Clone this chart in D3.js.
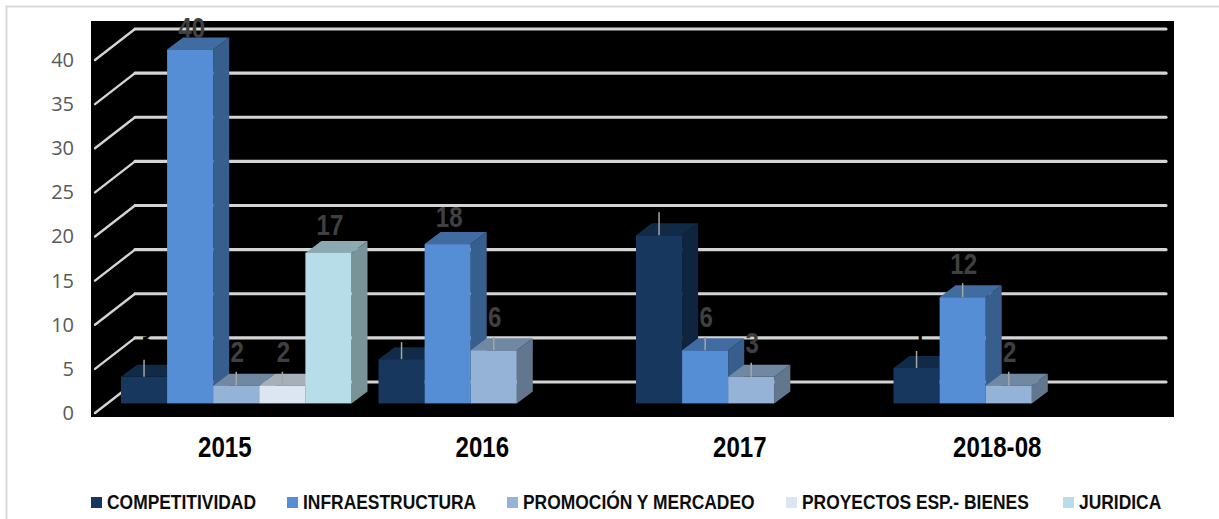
<!DOCTYPE html>
<html lang="es">
<head>
    <meta charset="UTF-8">
    <title>Chart</title>
    <script src="https://d3js.org/d3.v7.min.js"></script>
    <style>
        html, body { margin: 0; padding: 0; background: #fff; }
        svg { display: block; }
        .narrow text { font-family: "Liberation Sans", sans-serif; font-weight: bold; }
    </style>
</head>
<body>
    <svg id="chart" width="1219" height="519"></svg>

    <script>
        // Data
        const categories = ["2015", "2016", "2017", "2018-08"];
        const seriesNames = ["COMPETITIVIDAD", "INFRAESTRUCTURA", "PROMOCIÓN Y MERCADEO", "PROYECTOS ESP.- BIENES", "JURIDICA"];
        const competitividad = [3, 5, 19, 4];
        const infraestructura = [40, 18, 6, 12];
        const promocion = [2, 6, 3, 2];
        const proyectos = [2, null, null, null];
        const juridica = [17, null, null, null];
        const seriesValues = [competitividad, infraestructura, promocion, proyectos, juridica];
        const seriesColors = ["#17375E", "#558ED5", "#95B3D7", "#DCE6F2", "#B7DEE8"];
        const wallTicks = [0, 5, 10, 15, 20, 25, 30, 35, 40];

        // Layout
        const DEPTH_X = 16, DEPTH_Y = 12;
        const WALL_DX = 40, WALL_DY = 31;
        const LEGEND_X = [91, 287, 507, 786, 1063];
        const NARROW = 0.83; // no narrow font installed, squeeze the bold one

        const svg = d3.select("#chart");

        // Frame and black plot background
        svg.append("path")
            .attr("d", "M1219,6.5H6.5V519")
            .attr("fill", "none")
            .attr("stroke", "#d9d9d9")
            .attr("stroke-width", 2);
        svg.append("rect")
            .attr("x", 91).attr("y", 21)
            .attr("width", 1083).attr("height", 396)
            .attr("fill", "#000");

        // Scales
        const x = d3.scaleBand().domain(categories).range([107.5, 1137.5]);
        const barX = d3.scaleBand().domain(d3.range(seriesNames.length)).range([0, 230.5]);
        const yBar = d3.scaleLinear().domain([0, 40]).range([403.4, 49.4]);
        const yWall = d3.scaleLinear().domain([0, 40]).range([382, 29]);

        // Gridlines on the back wall with the diagonal floor/side part
        const grid = svg.append("g")
            .attr("fill", "none")
            .attr("stroke", "#d4d4d4")
            .attr("stroke-linecap", "round");
        wallTicks.forEach(t => {
            grid.append("line")
                .attr("x1", 95 + WALL_DX).attr("x2", 1166)
                .attr("y1", yWall(t)).attr("y2", yWall(t))
                .attr("stroke-width", 3.2);
            grid.append("line")
                .attr("x1", 95).attr("x2", 95 + WALL_DX)
                .attr("y1", yWall(t) + WALL_DY).attr("y2", yWall(t))
                .attr("stroke-width", 2.4);
        });

        // Value axis, labels sit beside the front end of the diagonals
        const yAxis = svg.append("g")
            .attr("transform", `translate(74,${WALL_DY})`)
            .call(d3.axisLeft(yWall).tickValues(wallTicks).tickSize(0).tickPadding(0));
        yAxis.select(".domain").remove();
        yAxis.selectAll("text")
            .attr("fill", "#595959")
            .style("font-family", "'Open Sans', sans-serif")
            .style("font-size", "20px");

        // 3D bars, drawn left to right so later bars cover earlier side faces
        function shade(color, k) {
            const c = d3.rgb(color);
            return d3.rgb(c.r * k, c.g * k, c.b * k).formatHex();
        }

        const bars = [];
        categories.forEach((cat, i) => {
            seriesValues.forEach((vals, s) => {
                if (vals[i] !== null) bars.push({ cat, s, value: vals[i] });
            });
        });

        const barG = svg.append("g");
        bars.forEach(d => {
            const x0 = x(d.cat) + 13.5 + barX(d.s);
            const x1 = x0 + barX.bandwidth();
            const y0 = yBar(d.value);
            const y1 = yBar(0);
            const col = seriesColors[d.s];
            barG.append("path")
                .attr("d", `M${x1},${y0}L${x1 + DEPTH_X},${y0 - DEPTH_Y}V${y1 - DEPTH_Y}L${x1},${y1}Z`)
                .attr("fill", shade(col, 0.66));
            barG.append("path")
                .attr("d", `M${x0},${y0}L${x0 + DEPTH_X},${y0 - DEPTH_Y}H${x1 + DEPTH_X}L${x1},${y0}Z`)
                .attr("fill", shade(col, 0.76));
            barG.append("rect")
                .attr("x", x0).attr("y", y0)
                .attr("width", x1 - x0).attr("height", y1 - y0)
                .attr("fill", col);
        });

        // Data labels with the small leader lines
        const labelG = svg.append("g").attr("class", "narrow");
        bars.forEach(d => {
            const cx = x(d.cat) + 13.5 + barX(d.s) + barX.bandwidth() / 2;
            const top = yBar(d.value);
            const isDark = d.s === 0;
            const noLeader = !isDark && d.value >= 17;
            let lift = 34;
            if (d.value === 40) lift = 22;
            else if (noLeader) lift = 28;
            else if (isDark) lift = d.value > 10 ? 42 : 38;
            if (!noLeader) {
                labelG.append("line")
                    .attr("x1", cx).attr("x2", cx)
                    .attr("y1", top).attr("y2", top - (d.value > 10 && isDark ? 23 : isDark ? 17 : 14))
                    .attr("stroke", "#a6a6a6")
                    .attr("stroke-width", 1.5);
            }
            labelG.append("text")
                .attr("transform", `translate(${cx + (noLeader ? 1.5 : 1)},${top - lift}) scale(${NARROW},1)`)
                .attr("dy", "0.36em")
                .attr("text-anchor", "middle")
                .attr("fill", isDark ? "#000" : "#404040")
                .style("font-size", "29px")
                .text(d.value);
        });

        // Category labels
        const xAxis = svg.append("g")
            .attr("class", "narrow")
            .attr("transform", "translate(-11.5,436)")
            .call(d3.axisBottom(x).tickSize(0).tickPadding(0));
        xAxis.select(".domain").remove();
        xAxis.selectAll("text")
            .attr("fill", "#000")
            .attr("transform", `scale(${NARROW},1)`)
            .style("font-size", "29px");

        // Legend
        const legend = svg.append("g").attr("class", "narrow");
        seriesNames.forEach((name, i) => {
            legend.append("rect")
                .attr("x", LEGEND_X[i]).attr("y", 497)
                .attr("width", 11).attr("height", 11)
                .attr("fill", seriesColors[i]);
            legend.append("text")
                .attr("transform", `translate(${LEGEND_X[i] + 16},508.5) scale(${NARROW + 0.02},1)`)
                .attr("fill", "#0d0d0d")
                .style("font-size", "20.5px")
                .text(name);
        });
    </script>
</body>
</html>
